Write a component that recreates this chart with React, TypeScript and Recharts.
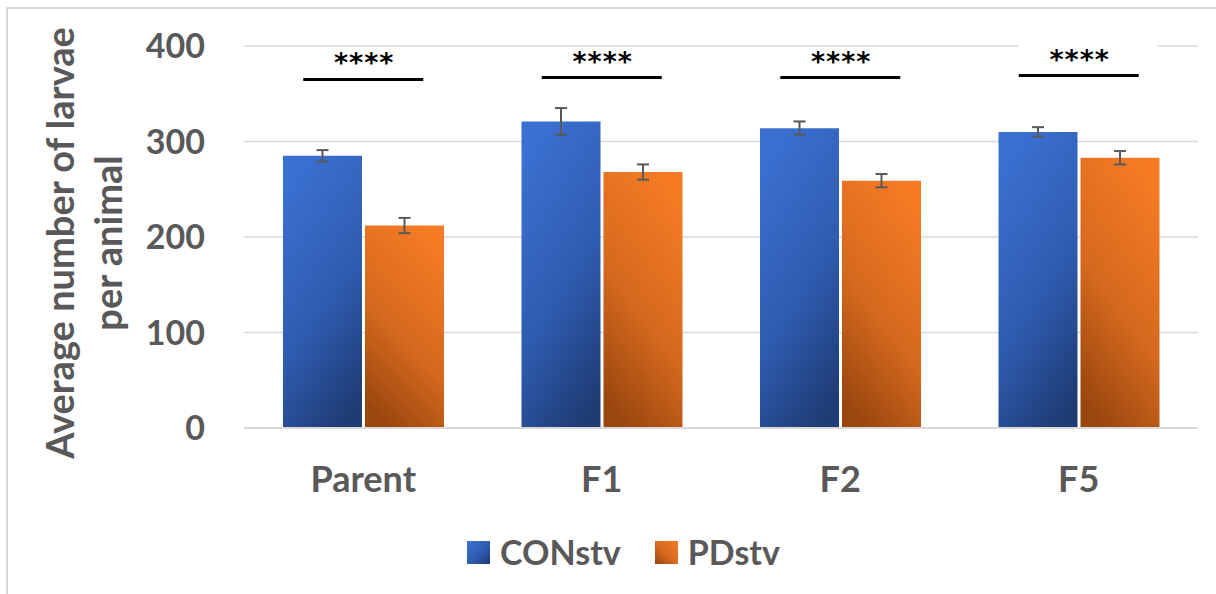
import React from "react";
import {
  Bar,
  CartesianGrid,
  ComposedChart,
  ErrorBar,
  Legend,
  Scatter,
  XAxis,
  YAxis,
} from "recharts";

document.body.style.margin = "0";

const generations = ["Parent", "F1", "F2", "F5"];
const conMeans = [285, 321, 314, 310];
const conErrors = [6, 14, 7, 5];
const pdMeans = [212, 268, 259, 283];
const pdErrors = [8, 8, 7, 7];
const sigHeights = [365, 367, 367, 369];
const sigLabels = ["****", "****", "****", "****"];
const yTicks = [0, 100, 200, 300, 400];
const seriesNames = ["CONstv", "PDstv"];

const FONT = "Lato, 'Open Sans', sans-serif";
const TEXT_GREY = "#595959";

const data = generations.map((gen, i) => ({
  gen,
  con: conMeans[i],
  conErr: conErrors[i],
  pd: pdMeans[i],
  pdErr: pdErrors[i],
  sig: sigHeights[i],
  sigLabel: sigLabels[i],
  // the last star label sits in a white text box that hides the 400 gridline
  boxed: i === generations.length - 1,
}));

function SigMark(props: any) {
  const { cx, cy, payload } = props;
  if (cx == null || cy == null) return null;
  return (
    <g>
      {payload.boxed && (
        <rect x={cx - 60} y={cy - 40} width={139} height={26} fill="#fff" />
      )}
      <line x1={cx - 60} x2={cx + 60} y1={cy} y2={cy} stroke="#000" strokeWidth={3} />
      <text
        x={cx + 1}
        y={cy - 7}
        textAnchor="middle"
        fontSize={27}
        fontWeight={700}
        fontFamily="'DejaVu Sans', sans-serif"
        letterSpacing={1}
        fill="#000"
      >
        {payload.sigLabel}
      </text>
    </g>
  );
}

function YLabel() {
  return (
    <g fill={TEXT_GREY} fontFamily={FONT} fontWeight={700} fontSize={38}>
      <text transform="translate(74, 243) rotate(-90)" textAnchor="middle">
        Average number of larvae
      </text>
      <text transform="translate(122, 243) rotate(-90)" textAnchor="middle">
        per animal
      </text>
    </g>
  );
}

const swatches = [
  "linear-gradient(135deg, #3d73d6 0%, #2f5cb0 55%, #1d3870 100%)",
  "linear-gradient(225deg, #f67b24 0%, #d5691e 55%, #96440e 100%)",
];

function LegendContent() {
  return (
    <div style={{ display: "flex", alignItems: "flex-start", fontFamily: FONT }}>
      {seriesNames.map((name, i) => (
        <div key={name} style={{ display: "flex", alignItems: "flex-start", marginRight: 34 }}>
          <div
            style={{
              width: 23,
              height: 23,
              marginTop: 6,
              marginRight: 10,
              background: swatches[i],
            }}
          />
          <span
            style={{
              fontSize: 34,
              lineHeight: "33px",
              fontWeight: 700,
              color: TEXT_GREY,
            }}
          >
            {name}
          </span>
        </div>
      ))}
    </div>
  );
}

export default function App() {
  return (
    <div style={{ position: "relative", width: 1216, height: 594, background: "#fff", overflow: "hidden" }}>
      <div style={{ position: "absolute", left: 7, top: 7, width: 1209, height: 2, background: "#d9d9d9" }} />
      <div style={{ position: "absolute", left: 6, top: 7, width: 2, height: 587, background: "#d9d9d9" }} />
      <ComposedChart
        width={1216}
        height={594}
        data={data}
        margin={{ top: 46, right: 18, bottom: 0, left: 0 }}
        barGap={3}
        style={{ position: "absolute", left: 0, top: 0 }}
      >
        <defs>
          <linearGradient id="gradCon" x1="0.3" y1="0" x2="0.7" y2="1">
            <stop offset="0%" stopColor="#3b70d1" />
            <stop offset="55%" stopColor="#2f5cb0" />
            <stop offset="100%" stopColor="#1f3c75" />
          </linearGradient>
          <linearGradient id="gradPd" x1="0.7" y1="0" x2="0.3" y2="1">
            <stop offset="0%" stopColor="#f67b24" />
            <stop offset="55%" stopColor="#d5691e" />
            <stop offset="100%" stopColor="#9a470f" />
          </linearGradient>
        </defs>
        <CartesianGrid vertical={false} stroke="#d9d9d9" strokeWidth={1.5} />
        <XAxis
          dataKey="gen"
          height={166}
          axisLine={{ stroke: "#d9d9d9", strokeWidth: 2 }}
          tickLine={false}
          tickSize={0}
          tickMargin={38}
          tick={{ fill: TEXT_GREY, fontSize: 36, fontWeight: 700, fontFamily: FONT }}
        />
        <YAxis
          width={244}
          domain={[0, 400]}
          ticks={yTicks}
          axisLine={false}
          tickLine={false}
          tickSize={0}
          tickMargin={39}
          tick={{ fill: TEXT_GREY, fontSize: 34, fontWeight: 700, fontFamily: FONT }}
          label={{ content: () => <YLabel /> }}
        />
        <Bar dataKey="con" name={seriesNames[0]} fill="url(#gradCon)" barSize={79} isAnimationActive={false}>
          <ErrorBar dataKey="conErr" width={6} stroke="#595959" strokeWidth={2} />
        </Bar>
        <Bar dataKey="pd" name={seriesNames[1]} fill="url(#gradPd)" barSize={79} isAnimationActive={false}>
          <ErrorBar dataKey="pdErr" width={6} stroke="#595959" strokeWidth={2} />
        </Bar>
        <Scatter dataKey="sig" shape={<SigMark />} legendType="none" isAnimationActive={false} />
        <Legend
          verticalAlign="middle"
          align="center"
          content={() => <LegendContent />}
          wrapperStyle={{ top: 535, left: 467, width: "auto", height: "auto" }}
        />
      </ComposedChart>
    </div>
  );
}
